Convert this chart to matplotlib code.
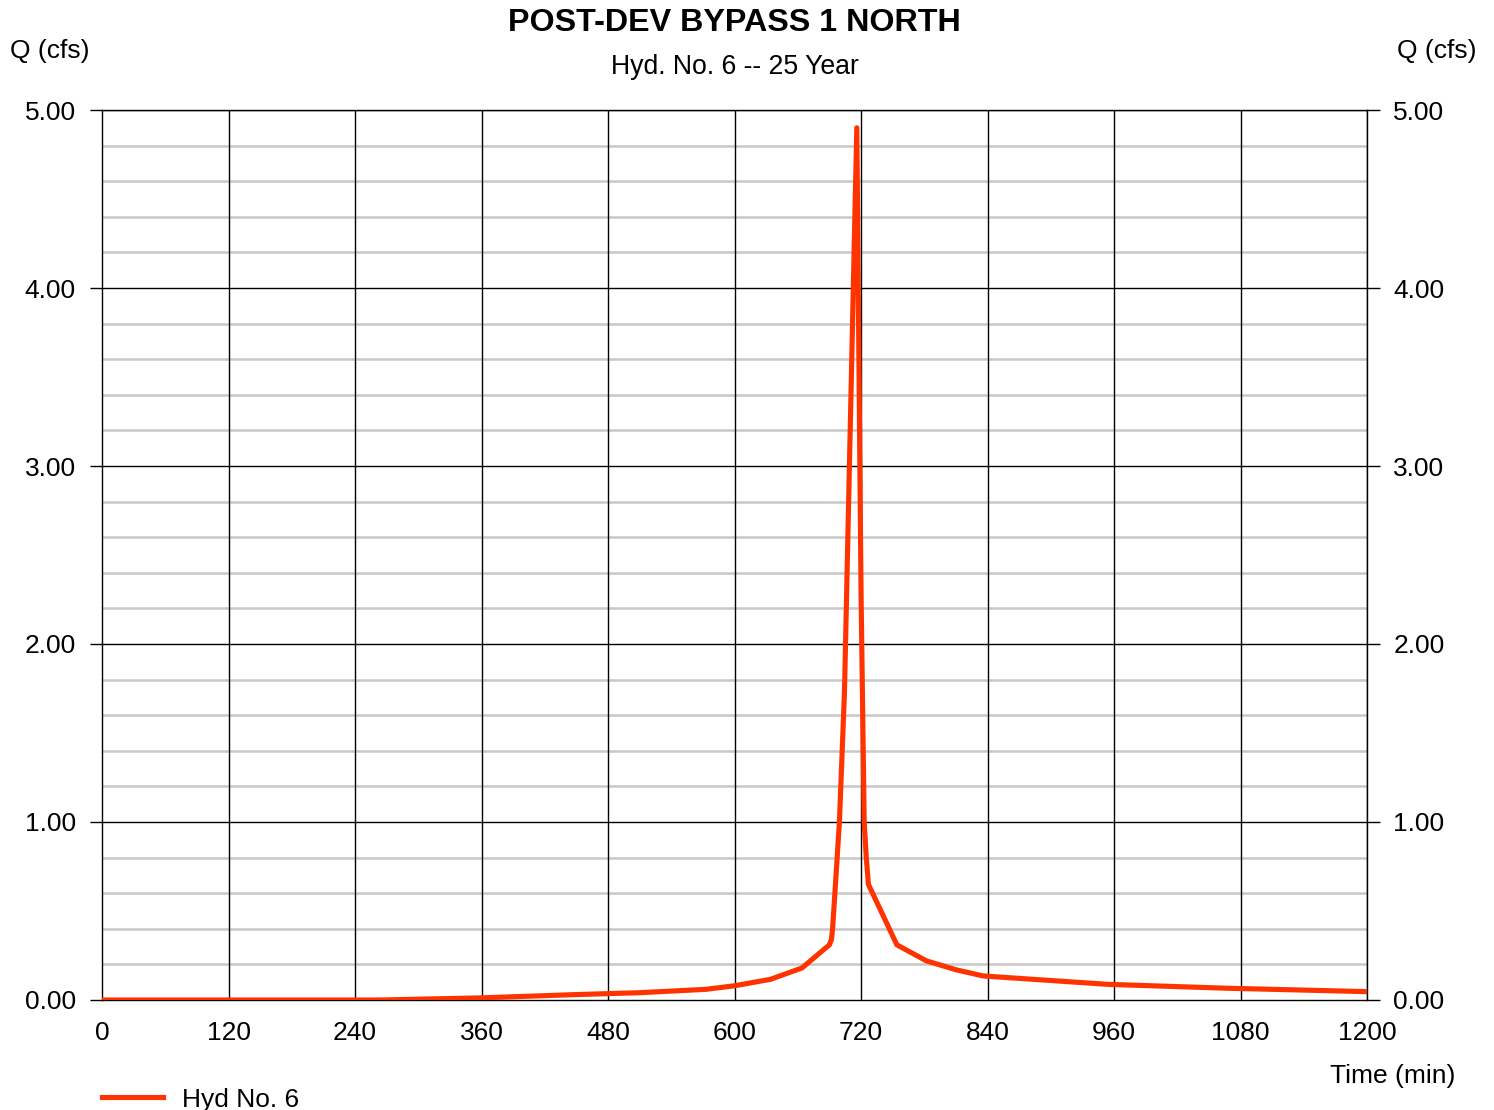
import matplotlib.pyplot as plt
import numpy as np

plt.rcParams['font.family'] = ['Liberation Sans', 'DejaVu Sans']

# hydrograph ordinates (time in min, flow in cfs)
time_min = [0, 264, 360, 447, 510, 573, 600, 634, 664, 690, 692, 693,
            695, 699.5, 704.3, 716, 720, 723, 725, 727, 754, 782, 810, 836,
            954, 1068, 1200]
flow_cfs = [0.0, 0.0, 0.012, 0.03, 0.041, 0.06, 0.08, 0.116, 0.18,
            0.31, 0.34, 0.40, 0.58, 1.00, 1.73, 4.90, 2.30, 1.00, 0.80, 0.65,
            0.31, 0.22, 0.17, 0.135, 0.088, 0.066, 0.047]

x_ticks = [0, 120, 240, 360, 480, 600, 720, 840, 960, 1080, 1200]
y_ticks = [0.0, 1.0, 2.0, 3.0, 4.0, 5.0]

fig = plt.figure(figsize=(14.94, 11.10), dpi=100)
ax = fig.add_axes([0.0683, 0.0991, 0.8467, 0.8018])

ax.set_xlim(0, 1200)
ax.set_ylim(0, 5)

# light minor grid every 0.2 cfs
for yv in np.arange(0.2, 5.0, 0.2):
    if abs(yv - round(yv)) > 1e-6:
        ax.axhline(yv, color='#c8c8c8', lw=1.8, zorder=1)
for yv in y_ticks[1:]:
    ax.axhline(yv, color='black', lw=1.0, zorder=2)
for xv in x_ticks[1:]:
    ax.axvline(xv, color='black', lw=1.0, zorder=2)

ax.plot(time_min, flow_cfs, color='#ff3300', lw=3.7, zorder=3,
        solid_joinstyle='round', label='Hyd No. 6')

ax.set_xticks(x_ticks)
ax.set_xticklabels([str(v) for v in x_ticks])
ax.set_yticks(y_ticks)
ax.set_yticklabels([f'{v:.2f}' for v in y_ticks])
ax.tick_params(axis='x', labelsize=19, length=0, pad=15)
ax.tick_params(axis='y', labelsize=19, length=9, width=1.0,
               direction='out', pad=10, right=True, labelright=True)
for s in ax.spines.values():
    s.set_linewidth(1.0)

fig.text(0.4917, 0.979, 'POST-DEV BYPASS 1 NORTH', ha='center', va='center',
         fontsize=23.2, fontweight='bold')
fig.text(0.4917, 0.940, 'Hyd. No. 6 -- 25 Year', ha='center', va='center',
         fontsize=19.2)
fig.text(0.0067, 0.954, 'Q (cfs)', ha='left', va='center', fontsize=19)
fig.text(0.988, 0.954, 'Q (cfs)', ha='right', va='center', fontsize=19)
fig.text(0.974, 0.031, 'Time (min)', ha='right', va='center', fontsize=19)

ax.legend(loc='upper left', bbox_to_anchor=(-0.0185, -0.0717), frameon=False,
          fontsize=19, handlelength=2.3, handletextpad=0.7)

fig.savefig('out.png', dpi=100)
